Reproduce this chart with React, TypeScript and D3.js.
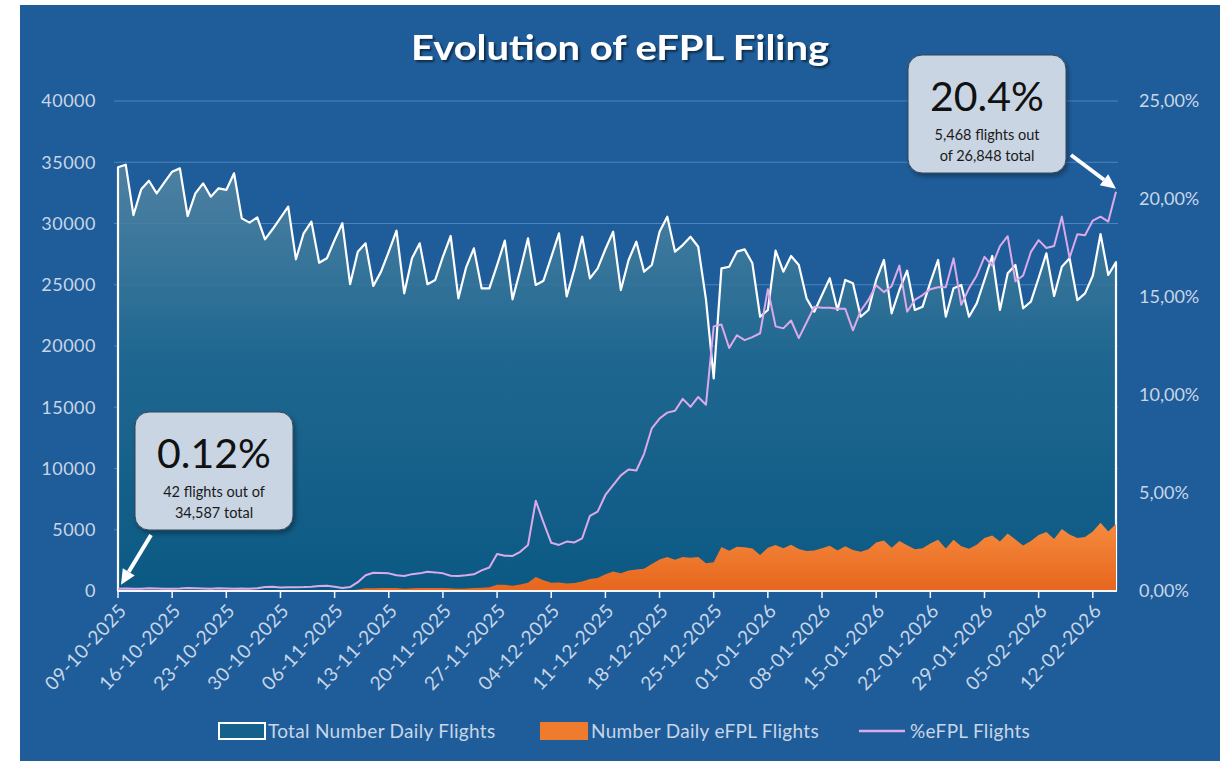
import React, { useEffect, useRef } from 'react';
import * as d3 from 'd3';

// daily series, 09-10-2025 .. 15-02-2026
const startDate = new Date(Date.UTC(2025, 9, 9));
const endDate = new Date(Date.UTC(2026, 1, 16));

const totalFlights = [
  34587, 34800, 30690, 32790, 33490, 32460, 33360, 34230, 34500, 30610,
  32460, 33280, 32190, 32870, 32740, 34100, 30420, 30070, 30500, 28710,
  29550, 30450, 31370, 27080, 29200, 30150, 26800, 27160, 28650, 30020,
  25050, 27700, 28380, 24900, 26070, 27700, 29410, 24300, 27160, 28380,
  25040, 25390, 27290, 28980, 23890, 26420, 27970, 24710, 24710, 26600,
  28600, 23810, 26200, 28790, 24980, 25330, 27260, 29200, 24050, 26300,
  28920, 25520, 26340, 27900, 29330, 24570, 27020, 28510, 26070, 26610,
  29330, 30560, 27700, 28240, 28920, 28100, 23800, 17360, 26340, 26470,
  27700, 27890, 26750, 22390, 22940, 27780, 26070, 27350, 26610, 23890,
  22800, 24160, 25530, 22940, 25390, 25120, 22390, 22940, 25390, 27020,
  22670, 24570, 26150, 22940, 23210, 25190, 27020, 22390, 24710, 24980,
  22390, 23480, 25390, 27350, 22940, 25930, 26610, 23080, 23620, 25550,
  27570, 24080, 26470, 27160, 23750, 24300, 25730, 29140, 25800, 26848,
];

const efplFlights = [
  42, 45, 34, 39, 47, 42, 40, 41, 45, 46,
  45, 43, 39, 46, 43, 41, 40, 36, 43, 57,
  65, 55, 60, 51, 58, 66, 67, 73, 63, 45,
  50, 125, 227, 232, 240, 249, 235, 187, 234, 255,
  245, 241, 246, 226, 184, 211, 238, 259, 297, 503,
  515, 426, 524, 677, 1149, 887, 671, 686, 606, 650,
  778, 977, 1067, 1367, 1584, 1450, 1675, 1753, 1825, 2209,
  2581, 2781, 2548, 2768, 2718, 2782, 2261, 2344, 3582, 3282,
  3615, 3570, 3464, 2944, 3533, 3750, 3493, 3774, 3433, 3273,
  3306, 3491, 3689, 3303, 3656, 3341, 3202, 3407, 3961, 4121,
  3525, 4079, 3726, 3407, 3481, 3879, 4188, 3470, 4193, 3647,
  3457, 3780, 4329, 4540, 4037, 4693, 4204, 3716, 4086, 4573,
  4825, 4238, 5056, 4617, 4323, 4410, 4863, 5566, 4863, 5468,
];

const efplPct = [
  0.12, 0.13, 0.11, 0.12, 0.14, 0.13, 0.12, 0.12, 0.13, 0.15,
  0.14, 0.13, 0.12, 0.14, 0.13, 0.12, 0.13, 0.12, 0.14, 0.2,
  0.22, 0.18, 0.19, 0.19, 0.2, 0.22, 0.25, 0.27, 0.22, 0.15,
  0.2, 0.45, 0.8, 0.93, 0.92, 0.9, 0.8, 0.77, 0.86, 0.9,
  0.98, 0.95, 0.9, 0.78, 0.77, 0.8, 0.85, 1.05, 1.2, 1.89,
  1.8, 1.79, 2.0, 2.35, 4.6, 3.5, 2.46, 2.35, 2.52, 2.48,
  2.69, 3.83, 4.05, 4.9, 5.4, 5.9, 6.2, 6.15, 7.0, 8.3,
  8.8, 9.1, 9.2, 9.8, 9.4, 9.9, 9.5, 13.5, 13.6, 12.4,
  13.05, 12.8, 12.95, 13.15, 15.4, 13.5, 13.4, 13.8, 12.9, 13.7,
  14.5, 14.45, 14.45, 14.4, 14.4, 13.3, 14.3, 14.85, 15.6, 15.25,
  15.55, 16.6, 14.25, 14.85, 15.1, 15.4, 15.5, 15.5, 16.97, 14.6,
  15.44, 16.1, 17.05, 16.6, 17.6, 18.1, 15.8, 16.1, 17.3, 17.9,
  17.5, 17.6, 19.1, 17.0, 18.2, 18.15, 18.9, 19.1, 18.85, 20.37,
];

const tickLabels = [
  '09-10-2025', '16-10-2025', '23-10-2025', '30-10-2025', '06-11-2025',
  '13-11-2025', '20-11-2025', '27-11-2025', '04-12-2025', '11-12-2025',
  '18-12-2025', '25-12-2025', '01-01-2026', '08-01-2026', '15-01-2026',
  '22-01-2026', '29-01-2026', '05-02-2026', '12-02-2026',
];
const leftTicks = [0, 5000, 10000, 15000, 20000, 25000, 30000, 35000, 40000];
const rightTicks = [0, 5, 10, 15, 20, 25];

const W = 1230;
const H = 761;
const BG = '#1f5d9a';
const LABEL = '#c8d6e7';
const FONT = 'Lato, "Open Sans", sans-serif';

export default function App() {
  const svgRef = useRef<SVGSVGElement>(null);

  useEffect(() => {
    if (!svgRef.current) return;
    const svg = d3.select(svgRef.current);
    svg.selectAll('*').remove();

    const days = d3.utcDay.range(startDate, endDate);
    const rows = days.map((d, i) => ({
      date: d,
      total: totalFlights[i],
      efpl: efplFlights[i],
      pct: efplPct[i],
    }));

    const x = d3.scaleUtc().domain([days[0], days[days.length - 1]]).range([118, 1116]);
    const yL = d3.scaleLinear().domain([0, 40000]).range([591, 101]);
    const yR = d3.scaleLinear().domain([0, 25]).range([591, 101]);

    const defs = svg.append('defs');
    const gTotal = defs.append('linearGradient')
      .attr('id', 'totalFill')
      .attr('gradientUnits', 'userSpaceOnUse')
      .attr('x1', 0).attr('x2', 0).attr('y1', 160).attr('y2', 591);
    gTotal.append('stop').attr('offset', '0%').attr('stop-color', '#5a8aa4').attr('stop-opacity', 0.8);
    gTotal.append('stop').attr('offset', '45%').attr('stop-color', '#1f6890').attr('stop-opacity', 0.92);
    gTotal.append('stop').attr('offset', '100%').attr('stop-color', '#0b5983').attr('stop-opacity', 1);

    const gOrange = defs.append('linearGradient')
      .attr('id', 'efplFill')
      .attr('gradientUnits', 'userSpaceOnUse')
      .attr('x1', 0).attr('x2', 0).attr('y1', 520).attr('y2', 591);
    gOrange.append('stop').attr('offset', '0%').attr('stop-color', '#f68c40');
    gOrange.append('stop').attr('offset', '100%').attr('stop-color', '#e6661c');

    const shadow = defs.append('filter').attr('id', 'titleShadow')
      .attr('x', '-10%').attr('y', '-30%').attr('width', '120%').attr('height', '160%');
    shadow.append('feDropShadow')
      .attr('dx', 2).attr('dy', 2).attr('stdDeviation', 1.2)
      .attr('flood-color', '#000').attr('flood-opacity', 0.55);

    const boxShadow = defs.append('filter').attr('id', 'boxShadow')
      .attr('x', '-10%').attr('y', '-10%').attr('width', '130%').attr('height', '130%');
    boxShadow.append('feDropShadow')
      .attr('dx', 2).attr('dy', 3).attr('stdDeviation', 2.5)
      .attr('flood-color', '#000').attr('flood-opacity', 0.35);

    // background
    svg.append('rect').attr('width', W).attr('height', H).attr('fill', '#ffffff');
    svg.append('rect')
      .attr('x', 20).attr('y', 5).attr('width', 1200).attr('height', H - 5)
      .attr('fill', BG);

    // gridlines
    svg.append('g')
      .selectAll('line')
      .data(leftTicks.slice(1))
      .enter()
      .append('line')
      .attr('x1', 114).attr('x2', 1118)
      .attr('y1', (d) => yL(d)).attr('y2', (d) => yL(d))
      .attr('stroke', '#4a84bd')
      .attr('stroke-width', 1.2);

    // total flights area
    const totalArea = d3.area<any>()
      .x((d) => x(d.date))
      .y0(yL(0))
      .y1((d) => yL(d.total));
    svg.append('path')
      .datum(rows)
      .attr('d', totalArea)
      .attr('fill', 'url(#totalFill)')
      .attr('stroke', '#ffffff')
      .attr('stroke-width', 2.2)
      .attr('stroke-linejoin', 'round');

    // eFPL flights area
    const efplArea = d3.area<any>()
      .x((d) => x(d.date))
      .y0(yL(0))
      .y1((d) => yL(d.efpl));
    svg.append('path')
      .datum(rows)
      .attr('d', efplArea)
      .attr('fill', 'url(#efplFill)');

    // x axis
    const tickDates = tickLabels.map((_, i) => days[i * 7]);
    svg.append('line')
      .attr('x1', 118).attr('x2', 1117)
      .attr('y1', 591).attr('y2', 591)
      .attr('stroke', '#f4f7fb').attr('stroke-width', 2);
    svg.append('g')
      .selectAll('line')
      .data(tickDates)
      .enter()
      .append('line')
      .attr('x1', (d) => x(d)).attr('x2', (d) => x(d))
      .attr('y1', 591).attr('y2', 598)
      .attr('stroke', '#f4f7fb').attr('stroke-width', 1.5);
    svg.append('g')
      .selectAll('text')
      .data(tickLabels)
      .enter()
      .append('text')
      .attr('transform', (_, i) => `translate(${x(tickDates[i]) + 5},${607}) rotate(-47)`)
      .attr('text-anchor', 'end')
      .attr('dy', '0.35em')
      .attr('font-family', FONT)
      .attr('font-size', 19)
      .attr('letter-spacing', 0.7)
      .attr('fill', LABEL)
      .text((d) => d);

    // % line
    const pctLine = d3.line<any>()
      .x((d) => x(d.date))
      .y((d) => yR(d.pct));
    svg.append('path')
      .datum(rows)
      .attr('d', pctLine)
      .attr('fill', 'none')
      .attr('stroke', '#dcaaea')
      .attr('stroke-width', 2)
      .attr('stroke-linejoin', 'round');

    // y labels
    svg.append('g')
      .selectAll('text')
      .data(leftTicks)
      .enter()
      .append('text')
      .attr('x', 96)
      .attr('y', (d) => yL(d))
      .attr('dy', '0.35em')
      .attr('text-anchor', 'end')
      .attr('font-family', FONT)
      .attr('font-size', 18)
      .attr('letter-spacing', 0.5)
      .attr('fill', LABEL)
      .text((d) => String(d));
    svg.append('g')
      .selectAll('text')
      .data(rightTicks)
      .enter()
      .append('text')
      .attr('x', 1139)
      .attr('y', (d) => yR(d))
      .attr('dy', '0.35em')
      .attr('text-anchor', 'start')
      .attr('font-family', FONT)
      .attr('font-size', 18)
      .attr('fill', LABEL)
      .text((d) => d.toFixed(2).replace('.', ',') + '%');

    // title
    svg.append('text')
      .attr('x', 620)
      .attr('y', 60)
      .attr('text-anchor', 'middle')
      .attr('font-family', FONT)
      .attr('font-weight', 'bold')
      .attr('font-size', 35)
      .attr('textLength', 418)
      .attr('lengthAdjust', 'spacingAndGlyphs')
      .attr('fill', '#ffffff')
      .attr('filter', 'url(#titleShadow)')
      .text('Evolution of eFPL Filing');

    // legend
    const legend = svg.append('g')
      .attr('font-family', FONT)
      .attr('font-size', 19)
      .attr('letter-spacing', 0.3)
      .attr('fill', LABEL);
    legend.append('rect')
      .attr('x', 219).attr('y', 723).attr('width', 46).attr('height', 16)
      .attr('fill', '#14618b').attr('stroke', '#ffffff').attr('stroke-width', 2);
    legend.append('text').attr('x', 268).attr('y', 738).text('Total Number Daily Flights');
    legend.append('rect')
      .attr('x', 540).attr('y', 722).attr('width', 48).attr('height', 18)
      .attr('fill', '#ef7b2e');
    legend.append('text').attr('x', 591).attr('y', 738).text('Number Daily eFPL Flights');
    legend.append('line')
      .attr('x1', 859).attr('x2', 905).attr('y1', 731).attr('y2', 731)
      .attr('stroke', '#dcaaea').attr('stroke-width', 2.5);
    legend.append('text').attr('x', 910).attr('y', 738).text('%eFPL Flights');

    // callouts
    const callout = (bx: number, by: number, big: string, l1: string, l2: string) => {
      const g = svg.append('g');
      g.append('rect')
        .attr('x', bx).attr('y', by).attr('width', 158).attr('height', 118)
        .attr('rx', 14)
        .attr('fill', '#c9d5e3')
        .attr('stroke', '#34465a')
        .attr('stroke-width', 1)
        .attr('filter', 'url(#boxShadow)');
      g.append('text')
        .attr('x', bx + 79).attr('y', by + 56)
        .attr('text-anchor', 'middle')
        .attr('font-family', FONT)
        .attr('font-size', 41)
        .attr('fill', '#111')
        .text(big);
      g.append('text')
        .attr('x', bx + 79).attr('y', by + 85)
        .attr('text-anchor', 'middle')
        .attr('font-family', FONT)
        .attr('font-size', 14.5)
        .attr('fill', '#1a1a1a')
        .text(l1);
      g.append('text')
        .attr('x', bx + 79).attr('y', by + 106)
        .attr('text-anchor', 'middle')
        .attr('font-family', FONT)
        .attr('font-size', 14.5)
        .attr('fill', '#1a1a1a')
        .text(l2);
    };
    callout(135, 412, '0.12%', '42 flights out of', '34,587 total');
    callout(908, 55, '20.4%', '5,468 flights out', 'of 26,848 total');

    // arrows pointing at first and last % values
    const arrow = (x0: number, y0: number, x1: number, y1: number) => {
      const ang = Math.atan2(y1 - y0, x1 - x0);
      const head = 15;
      const half = 7;
      const bx = x1 - head * Math.cos(ang);
      const by = y1 - head * Math.sin(ang);
      svg.append('line')
        .attr('x1', x0).attr('y1', y0).attr('x2', bx).attr('y2', by)
        .attr('stroke', '#ffffff').attr('stroke-width', 4);
      const px = -Math.sin(ang);
      const py = Math.cos(ang);
      svg.append('path')
        .attr('d', `M${x1},${y1}L${bx + px * half},${by + py * half}L${bx - px * half},${by - py * half}Z`)
        .attr('fill', '#ffffff');
    };
    const first = rows[0];
    const last = rows[rows.length - 1];
    arrow(151, 535, x(first.date) + 3, yR(first.pct) - 4);
    arrow(1071, 155, x(last.date), yR(last.pct) - 3);
  }, []);

  return (
    <div style={{ position: 'absolute', left: 0, top: 0 }}>
      <svg ref={svgRef} width={W} height={H} style={{ display: 'block' }} />
    </div>
  );
}
